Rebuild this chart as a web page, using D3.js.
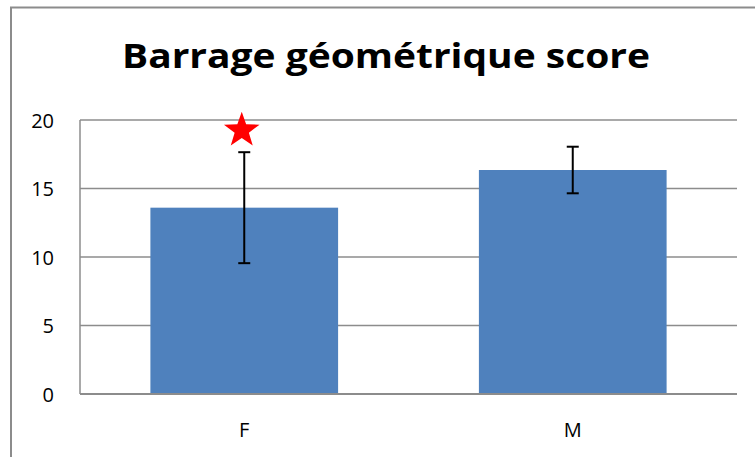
<!DOCTYPE html>
<html><head><meta charset="utf-8">
<script src="https://cdn.jsdelivr.net/npm/d3@7/dist/d3.min.js"></script>
<style>body{margin:0;background:#fff}svg{display:block}</style>
</head><body>
<script>
const categories = ["F", "M"];
const means = [13.6, 16.35];
const errors = [4.05, 1.7];
const yTicks = [0, 5, 10, 15, 20];
const title = "Barrage géométrique score";
const starCategory = "F";
const starValue = 19.24;

const W = 755, H = 457;
const svg = d3.select("body").append("svg").attr("width", W).attr("height", H);
svg.append("rect").attr("width", W).attr("height", H).attr("fill", "#fff");
// outer frame
svg.append("rect").attr("x", 11).attr("y", 7.5).attr("width", 800).attr("height", 500)
  .attr("fill", "none").attr("stroke", "#8c8c8c").attr("stroke-width", 2);

const plot = {left: 80, right: 737, top: 120, bottom: 394};
const x = d3.scaleBand().domain(categories).range([plot.left, plot.right]).paddingInner(0.4286).paddingOuter(0.2143);
const y = d3.scaleLinear().domain([0, 20]).range([plot.bottom, plot.top]);

// gridlines
svg.append("g").selectAll("line").data(yTicks.filter(d => d > 0)).join("line")
  .attr("x1", plot.left).attr("x2", plot.right)
  .attr("y1", d => y(d)).attr("y2", d => y(d))
  .attr("stroke", "#8c8c8c").attr("stroke-width", 1.5);

// left axis line
svg.append("line").attr("x1", plot.left).attr("x2", plot.left).attr("y1", plot.top).attr("y2", plot.bottom)
  .attr("stroke", "#8c8c8c").attr("stroke-width", 1.5);

// tick labels
svg.append("g").selectAll("text").data(yTicks).join("text")
  .attr("x", 54).attr("y", d => y(d) + 7.5)
  .attr("text-anchor", "end")
  .attr("font-family", "Open Sans, sans-serif").attr("font-size", 20)
  .attr("fill", "#000").text(d => d);

// bars
svg.append("g").selectAll("rect").data(categories).join("rect")
  .attr("x", d => x(d)).attr("width", x.bandwidth())
  .attr("y", (d, i) => y(means[i])).attr("height", (d, i) => y(0) - y(means[i]))
  .attr("fill", "#4F81BD");

// x axis line
svg.append("line").attr("x1", plot.left).attr("x2", plot.right).attr("y1", plot.bottom).attr("y2", plot.bottom)
  .attr("stroke", "#8c8c8c").attr("stroke-width", 2);

// error bars
const eb = svg.append("g").attr("stroke", "#000").attr("stroke-width", 2);
categories.forEach((c, i) => {
  const cx = x(c) + x.bandwidth() / 2;
  const hi = y(means[i] + errors[i]), lo = y(means[i] - errors[i]);
  eb.append("line").attr("x1", cx).attr("x2", cx).attr("y1", hi).attr("y2", lo);
  eb.append("line").attr("x1", cx - 6).attr("x2", cx + 6).attr("y1", hi).attr("y2", hi);
  eb.append("line").attr("x1", cx - 6).attr("x2", cx + 6).attr("y1", lo).attr("y2", lo);
});

// category labels
svg.append("g").selectAll("text").data(categories).join("text")
  .attr("x", d => x(d) + x.bandwidth() / 2).attr("y", 437)
  .attr("text-anchor", "middle")
  .attr("font-family", "Open Sans, sans-serif").attr("font-size", 20)
  .attr("fill", "#000").text(d => d);

// star
const R = 18.7, r = R * 0.4;
const pts = d3.range(10).map(k => {
  const a = -Math.PI / 2 + k * Math.PI / 5;
  const rr = k % 2 === 0 ? R : r;
  return [rr * Math.cos(a), rr * Math.sin(a)];
});
svg.append("path")
  .attr("d", d3.line()(pts) + "Z")
  .attr("transform", `translate(${x(starCategory) + x.bandwidth() / 2 - 2.5},${y(starValue)})`)
  .attr("fill", "#ff0000");

// title
svg.append("text").attr("x", 386).attr("y", 68)
  .attr("text-anchor", "middle")
  .attr("font-family", "Open Sans, sans-serif").attr("font-weight", "bold").attr("font-size", 34)
  .attr("textLength", 528).attr("lengthAdjust", "spacingAndGlyphs")
  .attr("fill", "#000").text(title);
</script>
</body></html>
